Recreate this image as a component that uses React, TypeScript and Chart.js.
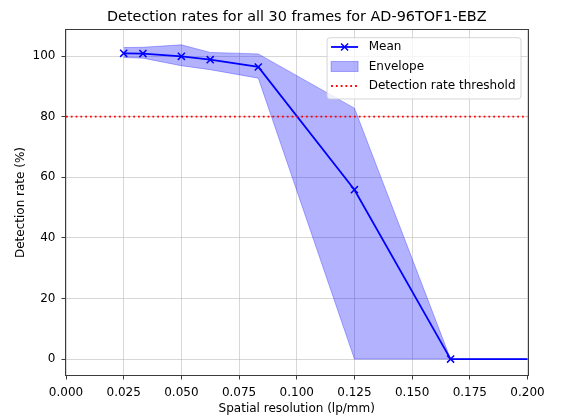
import { useEffect, useRef } from "react";
import { Chart, registerables } from "chart.js";

Chart.register(...registerables);

// Spatial resolution samples (lp/mm) and measured detection rates (%)
const resolution = [0.025, 1 / 30, 0.05, 0.0625, 1 / 12, 0.125, 1 / 6, 0.25];
const meanRate = [100.9, 100.8, 99.9, 98.8, 96.4, 55.9, 0, 0];
const envelopeUpper = [102.8, 102.9, 103.7, 101.2, 100.7, 82.8, 0, 0];
const envelopeLower = [99.5, 99.3, 96.8, 95.5, 92.7, 0, 0, 0];
const thresholdRate = 80;

const xTicks = [0, 0.025, 0.05, 0.075, 0.1, 0.125, 0.15, 0.175, 0.2];
const yTicks = [0, 20, 40, 60, 80, 100];

const FONT = "'DejaVu Sans', sans-serif";
const GRID = "rgba(176,176,176,0.5)";
const SPINE = "#3c3c3c";
const BLUE = "#0000ff";
const FILL = "rgba(0,0,255,0.3)";
const DOT = [1.8, 3];

const toPoints = (ys: number[]) => resolution.map((x, i) => ({ x, y: ys[i] }));

// Axes frame drawn over the data, like plot spines
const framePlugin = {
  id: "frame",
  afterDatasetsDraw(chart: any) {
    const { ctx, chartArea: a } = chart;
    ctx.save();
    ctx.strokeStyle = SPINE;
    ctx.lineWidth = 1;
    ctx.strokeRect(
      Math.round(a.left) - 0.5,
      Math.round(a.top) - 0.5,
      Math.round(a.right - a.left) + 1,
      Math.round(a.bottom - a.top) + 1
    );
    ctx.restore();
  },
};

function drawCross(ctx: CanvasRenderingContext2D, x: number, y: number, h: number) {
  ctx.beginPath();
  ctx.moveTo(x - h, y - h);
  ctx.lineTo(x + h, y + h);
  ctx.moveTo(x - h, y + h);
  ctx.lineTo(x + h, y - h);
  ctx.stroke();
}

// Legend box inset in the upper-right corner of the plot
const insetLegendPlugin = {
  id: "insetLegend",
  afterDraw(chart: any) {
    const { ctx, chartArea: a } = chart;
    const entries = chart.data.datasets
      .filter((d: any) => d.legendKind)
      .sort((p: any, q: any) => p.legendRank - q.legendRank);
    ctx.save();
    ctx.font = `12px ${FONT}`;
    const textW = Math.max(...entries.map((d: any) => ctx.measureText(d.label).width));
    const padL = 4;
    const handleW = 27;
    const gap = 10.6;
    const padR = 5.5;
    const rowH = 19.5;
    const w = padL + handleW + gap + textW + padR;
    const h = 61.3;
    const right = a.right - 6.5;
    const top = a.top + 7.7;
    const left = right - w;

    ctx.beginPath();
    ctx.roundRect(left, top, w, h, 3);
    ctx.fillStyle = "rgba(255,255,255,0.8)";
    ctx.fill();
    ctx.strokeStyle = "rgba(204,204,204,0.8)";
    ctx.lineWidth = 1;
    ctx.stroke();

    entries.forEach((d: any, i: number) => {
      const cy = top + 9.3 + i * rowH;
      const hx = left + padL;
      if (d.legendKind === "line") {
        ctx.strokeStyle = d.borderColor;
        ctx.lineWidth = d.borderWidth;
        ctx.setLineDash(d.borderDash || []);
        ctx.beginPath();
        ctx.moveTo(hx, cy);
        ctx.lineTo(hx + handleW, cy);
        ctx.stroke();
        ctx.setLineDash([]);
        if (d.pointRadius > 0) {
          ctx.lineWidth = d.pointBorderWidth;
          drawCross(ctx, hx + handleW / 2, cy, d.pointRadius * Math.SQRT1_2);
        }
      } else {
        ctx.fillStyle = d.backgroundColor;
        ctx.fillRect(hx, cy - 5, handleW, 10);
        ctx.strokeStyle = d.borderColor;
        ctx.lineWidth = 1;
        ctx.strokeRect(hx, cy - 5, handleW, 10);
      }
      ctx.fillStyle = "#000";
      ctx.textBaseline = "middle";
      ctx.textAlign = "left";
      ctx.fillText(d.label, hx + handleW + gap, cy);
    });
    ctx.restore();
  },
};

export default function App() {
  const canvasRef = useRef<HTMLCanvasElement | null>(null);

  useEffect(() => {
    if (!canvasRef.current) return;
    const chart = new Chart(canvasRef.current, {
      type: "line",
      data: {
        datasets: [
          {
            label: "Detection rate threshold",
            legendKind: "line",
            legendRank: 2,
            data: [
              { x: 0, y: thresholdRate },
              { x: 0.2, y: thresholdRate },
            ],
            borderColor: "#ff0000",
            borderWidth: 1.8,
            borderDash: DOT,
            pointRadius: 0,
            fill: false,
            order: 0,
          },
          {
            label: "Mean",
            legendKind: "line",
            legendRank: 0,
            data: toPoints(meanRate),
            borderColor: BLUE,
            borderWidth: 1.8,
            pointStyle: "crossRot",
            pointRadius: 5,
            pointBorderWidth: 1.5,
            pointBorderColor: BLUE,
            pointBackgroundColor: BLUE,
            fill: false,
            order: 1,
          },
          {
            label: "Envelope",
            legendKind: "patch",
            legendRank: 1,
            data: toPoints(envelopeUpper),
            borderColor: FILL,
            backgroundColor: FILL,
            borderWidth: 1,
            pointRadius: 0,
            fill: "+1",
            order: 2,
          },
          {
            label: "Envelope lower",
            data: toPoints(envelopeLower),
            borderColor: FILL,
            borderWidth: 1,
            pointRadius: 0,
            fill: false,
            order: 3,
          },
        ] as any,
      },
      options: {
        responsive: false,
        animation: false,
        devicePixelRatio: 1,
        layout: { padding: { left: 0, right: 34.5, top: 0, bottom: 0 } },
        plugins: {
          legend: { display: false },
          tooltip: { enabled: false },
          title: {
            display: true,
            text: "Detection rates for all 30 frames for AD-96TOF1-EBZ",
            fullSize: false,
            color: "#000",
            font: { family: FONT, size: 14.4, weight: "normal" },
            padding: { top: 8.8, bottom: 3.9 },
          },
        },
        scales: {
          x: {
            type: "linear",
            min: 0,
            max: 0.2,
            afterBuildTicks: (s: any) => {
              s.ticks = xTicks.map((v) => ({ value: v }));
            },
            afterFit: (s: any) => {
              s.height = 41;
            },
            ticks: {
              autoSkip: false,
              maxRotation: 0,
              color: "#000",
              padding: 6,
              font: { family: FONT, size: 12 },
              callback: (v: any) => Number(v).toFixed(3),
            },
            grid: { color: GRID, lineWidth: 1, tickColor: SPINE, tickLength: 4.5 },
            border: { display: false },
            title: {
              display: true,
              text: "Spatial resolution (lp/mm)",
              color: "#000",
              font: { family: FONT, size: 12 },
              padding: { top: 0, bottom: 0 },
            },
          },
          y: {
            type: "linear",
            min: -5.25,
            max: 108.6,
            afterBuildTicks: (s: any) => {
              s.ticks = yTicks.map((v) => ({ value: v }));
            },
            afterFit: (s: any) => {
              s.width = 66;
            },
            ticks: {
              color: "#000",
              padding: 6,
              font: { family: FONT, size: 12 },
            },
            grid: { color: GRID, lineWidth: 1, tickColor: SPINE, tickLength: 4.5 },
            border: { display: false },
            title: {
              display: true,
              text: "Detection rate (%)",
              color: "#000",
              font: { family: FONT, size: 12 },
              padding: { top: 13.5, bottom: 0 },
            },
          },
        },
      } as any,
      plugins: [framePlugin, insetLegendPlugin],
    });
    return () => chart.destroy();
  }, []);

  return (
    <div style={{ position: "fixed", left: 0, top: 0, width: 562, height: 416, background: "#fff" }}>
      <canvas ref={canvasRef} width={562} height={416} />
    </div>
  );
}
